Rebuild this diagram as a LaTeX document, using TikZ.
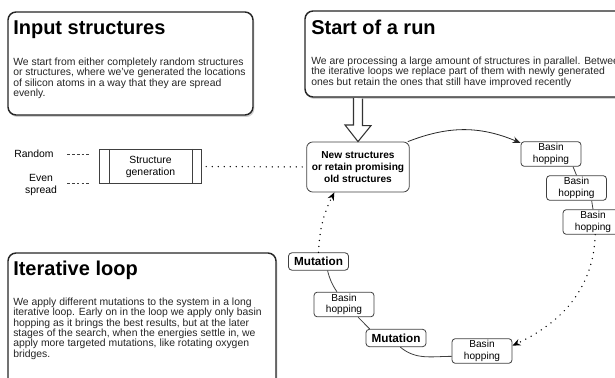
\documentclass[tikz,border=0pt]{standalone}
\usepackage{fontspec}
\setmainfont{Liberation Sans}
\usetikzlibrary{arrows.meta,shadows,positioning}

\begin{document}
\begin{tikzpicture}[x=0.75pt,y=-0.75pt,>={Stealth[length=6pt,width=5pt]},font=\fontsize{7.8}{9}\selectfont]
        \tikzstyle{infobox}=[draw=black!85,line width=1.1pt,rounded corners=6pt,fill=white,drop shadow={shadow xshift=1pt,shadow yshift=-1.5pt,fill=black!35}]
        \tikzstyle{headline}=[anchor=base west,inner sep=0pt,font=\fontsize{15}{17}\selectfont\bfseries]
        \tikzstyle{blurb}=[anchor=north west,inner sep=0pt,align=left,text=black!85,font=\fontsize{7.8}{7.8}\selectfont]
        \tikzstyle{hop}=[rectangle,rounded corners=2.5pt,draw=black!75,line width=0.6pt,fill=white,minimum width=45pt,minimum height=18.5pt,inner sep=0pt,align=center,font=\fontsize{7.6}{8.5}\selectfont]
        \tikzstyle{mutation}=[hop,minimum height=13pt,font=\fontsize{8.8}{10}\selectfont\bfseries]
        \tikzstyle{link}=[black!75,line width=0.6pt]
        \tikzstyle{dotline}=[line width=1.1pt,line cap=round,dash pattern=on 0pt off 4.5pt]
        \tikzstyle{dashline}=[black!75,line width=0.6pt,dash pattern=on 2pt off 1.6pt]

        \useasboundingbox (0,0) rectangle (615,378);

        % text panels
        \draw[infobox] (8,12) rectangle (253,115);
        \node[headline] (inputtitle) at (13,35) {Input structures};
        \node[blurb] (inputtext) at (13,57.5) {We start from either completely random structures\\or structures, where we've generated the locations\\of silicon atoms in a way that they are spread\\evenly.};

        \draw[infobox] (305,11) rectangle (660,97);
        \node[headline] (runtitle) at (311,35) {Start of a run};
        \node[blurb] (runtext) at (311,56.5) {We are processing a large amount of structures in parallel. Between\\the iterative loops we replace part of them with newly generated\\ones but retain the ones that still have improved recently};

        \draw[infobox] (8,253) rectangle (276,430);
        \node[headline] (looptitle) at (13,275) {Iterative loop};
        \node[blurb] (looptext) at (13,297.5) {We apply different mutations to the system in a long\\iterative loop. Early on in the loop we apply only basin\\hopping as it brings the best results, but at the later\\stages of the search, when the energies settle in, we\\apply more targeted mutations, like rotating oxygen\\bridges.};

        % generation of the structures
        \node[inner sep=0pt] (random) at (34,154) {Random};
        \node[inner sep=0pt,align=center] (even) at (41,185) {Even\\spread};
        \node[rectangle,draw=black!75,line width=0.6pt,minimum width=77pt,minimum height=26pt,inner sep=0pt,align=center] (gen) at (150.5,166.5) {Structure\\generation};
        \draw[link] ([xshift=8.25pt]gen.north west) -- ([xshift=8.25pt]gen.south west)
                    ([xshift=-7.5pt]gen.north east) -- ([xshift=-7.5pt]gen.south east);
        \draw[dashline,shorten <=10pt,shorten >=6pt] (random.east) -- (random.east -| gen.west);
        \draw[dashline,shorten <=7.5pt,shorten >=6pt] ([yshift=1.5pt]even.east) -- ([yshift=1.5pt]even.east -| gen.west);

        % the loop
        \node[hop,minimum width=77pt,minimum height=37.5pt,rounded corners=4.5pt,font=\fontsize{7.6}{9.3}\selectfont\bfseries] (new) at (358,167) {New structures\\or retain promising\\old structures};
        \draw[dotline,shorten <=3pt] (gen.east) -- (new.west);

        \coordinate (runfoot) at (358,98);
        \draw[black!80,line width=0.8pt,fill=white] (runfoot) ++(-4.5,0) -- ++(0,27) -- ++(-8.5,0) -- (new.north)
            -- ++(13,-16) -- ++(-8.5,0) -- ++(0,-27);

        \node[hop] (bh1) at (551,154) {Basin\\hopping};
        \node[hop] (bh2) at (576.5,188) {Basin\\hopping};
        \node[hop] (bh3) at (593,222) {Basin\\hopping};
        \node[hop] (bh4) at (482,351) {Basin\\hopping};
        \node[mutation] (mut2) at (396,338) {Mutation};
        \node[hop] (bh5) at (344,304.5) {Basin\\hopping};
        \node[mutation] (mut1) at (318.5,261.5) {Mutation};

        \draw[->,black!85,line width=0.6pt] (new.27) to[bend left=22] (bh1.160);
        \draw[link] (bh1.-30) -- (bh2.north);
        \draw[link] (bh2.-40) -- (bh3.north);
        \draw[dotline,->] (bh3.-80) to[out=-92,in=25] (bh4.10);
        \draw[link] (mut2.-65) to[out=-40,in=180] (bh4.190);
        \draw[link] (mut2.161) -- (bh5.-42);
        \draw[link] (mut1.-45) to[bend right=10] (bh5.119);
        \draw[dotline,->] (mut1.north) to[bend left=12] (new.-133);
    \end{tikzpicture}
\end{document}
